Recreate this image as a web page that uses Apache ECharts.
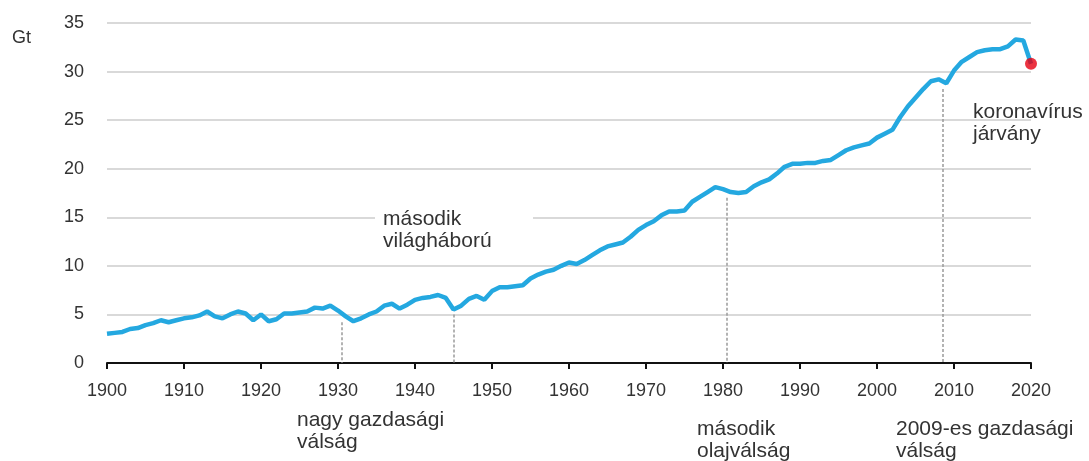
<!DOCTYPE html>
<html>
<head>
<meta charset="utf-8">
<script src="https://cdn.jsdelivr.net/npm/echarts@6/dist/echarts.min.js"></script>
<style>
html,body{margin:0;padding:0;background:#fff;}
#chart{width:1089px;height:461px;}
</style>
</head>
<body>
<div id="chart"></div>
<script>
const years = [];
for (let y = 1900; y <= 2020; y++) years.push(y);
const emissions = [
  3.0, 3.1, 3.2, 3.5, 3.6, 3.9, 4.1, 4.4, 4.2, 4.4,
  4.6, 4.7, 4.9, 5.3, 4.8, 4.6, 5.0, 5.3, 5.1, 4.4,
  5.0, 4.3, 4.5, 5.1, 5.1, 5.2, 5.3, 5.7, 5.6, 5.9,
  5.4, 4.8, 4.3, 4.6, 5.0, 5.3, 5.9, 6.1, 5.6, 6.0,
  6.5, 6.7, 6.8, 7.0, 6.7, 5.5, 5.9, 6.6, 6.9, 6.5,
  7.4, 7.8, 7.8, 7.9, 8.0, 8.7, 9.1, 9.4, 9.6, 10.0,
  10.35, 10.2, 10.6, 11.1, 11.6, 12.0, 12.2, 12.4, 13.0, 13.7,
  14.2, 14.6, 15.2, 15.6, 15.6, 15.7, 16.6, 17.1, 17.6, 18.1,
  17.9, 17.6, 17.5, 17.6, 18.2, 18.6, 18.9, 19.5, 20.2, 20.5,
  20.5, 20.6, 20.6, 20.8, 20.9, 21.4, 21.9, 22.2, 22.4, 22.6,
  23.2, 23.6, 24.0, 25.3, 26.4, 27.3, 28.2, 29.0, 29.2, 28.8,
  30.1, 31.0, 31.5, 32.0, 32.2, 32.3, 32.3, 32.6, 33.3, 33.2,
  30.8
];
const highlightYear = 2020;
const highlightValue = 30.8;
const eventYears = [1930.5, 1945, 1980.5, 2008.6];
const eventTops = [4.2, 5.0, 17.0, 28.2];
const yTicks = [0, 5, 10, 15, 20, 25, 30, 35];
const xTicks = [1900, 1910, 1920, 1930, 1940, 1950, 1960, 1970, 1980, 1990, 2000, 2010, 2020];
const unitLabel = 'Gt';
const annotations = [
  'második\nvilágháború',
  'nagy gazdasági\nválság',
  'második\nolajválság',
  '2009-es gazdasági\nválság',
  'koronavírus\njárvány'
];

const FONT = 'Liberation Sans, Arial, sans-serif';
const chart = echarts.init(document.getElementById('chart'), null, {renderer: 'canvas'});

const lineData = years.map((y, i) => [y, emissions[i]]);
const markData = eventYears.map((y, i) => [{coord: [y, eventTops[i]]}, {coord: [y, 0]}]);

const annoPos = [
  [383, 208.5], [297, 409.5], [697, 418.5], [896, 418.5], [973, 101.5]
];

chart.setOption({
  animation: false,
  grid: {left: 107, right: 58, top: 23, bottom: 98, containLabel: false},
  xAxis: {
    type: 'value',
    min: xTicks[0], max: xTicks[xTicks.length - 1], interval: 10,
    axisLine: {show: true, lineStyle: {color: '#111', width: 2}},
    axisTick: {show: true, length: 6, lineStyle: {color: '#111', width: 2}},
    axisLabel: {color: '#333', fontSize: 18, fontFamily: FONT, margin: 19, formatter: v => String(v)},
    splitLine: {show: false}
  },
  yAxis: {
    type: 'value',
    min: yTicks[0], max: yTicks[yTicks.length - 1], interval: 5,
    axisLine: {show: false},
    axisTick: {show: false},
    axisLabel: {color: '#333', fontSize: 18, fontFamily: FONT, margin: 23},
    splitLine: {show: true, lineStyle: {color: '#d9d9d9', width: 2}}
  },
  series: [
    {
      type: 'line',
      data: lineData,
      symbol: 'none',
      lineStyle: {color: '#24a8e0', width: 4.5},
      z: 3,
      markLine: {
        silent: true,
        symbol: ['none', 'none'],
        label: {show: false},
        lineStyle: {color: '#9a9a9a', type: [3, 2], width: 1.5},
        data: markData,
        z: 2
      }
    },
    {
      type: 'scatter',
      data: [[highlightYear, highlightValue]],
      symbol: 'circle',
      symbolSize: 12,
      itemStyle: {color: '#e60012'},
      z: 4
    }
  ],
  graphic: [
    {type: 'rect', left: 375, top: 201, shape: {width: 158, height: 52}, style: {fill: '#fff'}, z: 10},
    {type: 'text', left: 12, top: 29, style: {text: unitLabel, font: '18px ' + FONT, fill: '#333'}, z: 11}
  ].concat(annotations.map((t, i) => ({
    type: 'text', left: annoPos[i][0], top: annoPos[i][1], z: 11,
    style: {text: t, font: '21px ' + FONT, fill: '#333', lineHeight: 22}
  })))
});
</script>
</body>
</html>
